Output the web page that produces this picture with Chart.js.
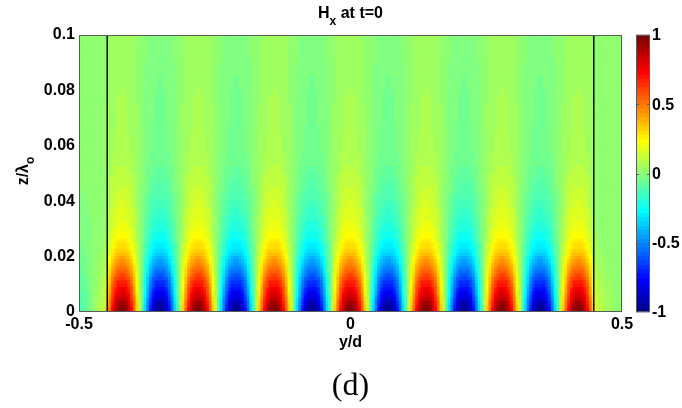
<!DOCTYPE html>
<html lang="en">
<head>
<meta charset="utf-8">
<title>Hx at t=0</title>
<script src="https://cdn.jsdelivr.net/npm/chart.js"></script>
<style>
    html, body { margin: 0; padding: 0; background: #fff; }
    .chart-container { width: 682px; height: 408px; position: relative; }
</style>
</head>
<body>
<div class="chart-container">
    <canvas id="myChart" width="682" height="408"></canvas>
</div>

<script>
    // grid of the field map: column centres in y/d (even spacing)
    const yStart = -0.4975, yStep = 0.005, yCount = 200;

    // row edges in z/lambda_o: finer near the bottom where the field changes fast
    const zEdges = [
        0, 0.00125, 0.0025, 0.00375, 0.005, 0.00625, 0.0075, 0.00875, 0.01, 0.01125,
        0.0125, 0.01375, 0.015, 0.01625, 0.0175, 0.01875, 0.02, 0.02125, 0.0225, 0.02375,
        0.025, 0.02625, 0.0275, 0.02875, 0.03,
        0.0325, 0.035, 0.0375, 0.04, 0.0425, 0.045, 0.0475, 0.05, 0.0525, 0.055,
        0.0575, 0.06, 0.0625, 0.065, 0.0675, 0.07, 0.0725, 0.075, 0.0775, 0.08,
        0.0825, 0.085, 0.0875, 0.09, 0.0925, 0.095, 0.0975, 0.1
    ];

    // Hx along the bottom edge (z = 0), one value per column
    const hxAtBottom = [
        -0.12, -0.10, -0.08, -0.05, -0.02, 0.01, 0.04, 0.07, 0.10, 0.13,
        0.33, 0.55, 0.75, 0.88, 0.97, 1.0,
        1.0, 0.97, 0.88, 0.75, 0.55, 0.33, 0.11, -0.11, -0.33, -0.55, -0.75, -0.88, -0.97, -1.0,
        -1.0, -0.97, -0.88, -0.75, -0.55, -0.33, -0.11, 0.11, 0.33, 0.55, 0.75, 0.88, 0.97, 1.0,
        1.0, 0.97, 0.88, 0.75, 0.55, 0.33, 0.11, -0.11, -0.33, -0.55, -0.75, -0.88, -0.97, -1.0,
        -1.0, -0.97, -0.88, -0.75, -0.55, -0.33, -0.11, 0.11, 0.33, 0.55, 0.75, 0.88, 0.97, 1.0,
        1.0, 0.97, 0.88, 0.75, 0.55, 0.33, 0.11, -0.11, -0.33, -0.55, -0.75, -0.88, -0.97, -1.0,
        -1.0, -0.97, -0.88, -0.75, -0.55, -0.33, -0.11, 0.11, 0.33, 0.55, 0.75, 0.88, 0.97, 1.0,
        1.0, 0.97, 0.88, 0.75, 0.55, 0.33, 0.11, -0.11, -0.33, -0.55, -0.75, -0.88, -0.97, -1.0,
        -1.0, -0.97, -0.88, -0.75, -0.55, -0.33, -0.11, 0.11, 0.33, 0.55, 0.75, 0.88, 0.97, 1.0,
        1.0, 0.97, 0.88, 0.75, 0.55, 0.33, 0.11, -0.11, -0.33, -0.55, -0.75, -0.88, -0.97, -1.0,
        -1.0, -0.97, -0.88, -0.75, -0.55, -0.33, -0.11, 0.11, 0.33, 0.55, 0.75, 0.88, 0.97, 1.0,
        1.0, 0.97, 0.88, 0.75, 0.55, 0.33, 0.11, -0.11, -0.33, -0.55, -0.75, -0.88, -0.97, -1.0,
        -1.0, -0.97, -0.88, -0.75, -0.55, -0.33, -0.11, 0.11, 0.33, 0.55, 0.75, 0.88, 0.97, 1.0,
        1.0, 0.97, 0.88, 0.75, 0.55, 0.33,
        0.14, 0.12, 0.10, 0.08, 0.06, 0.05, 0.04, 0.03, 0.02, 0.02
    ];

    // how strongly the bottom pattern survives in each row (row 0 = bottom)
    const decayWithZ = [
        0.99, 0.95, 0.91, 0.87, 0.83, 0.79, 0.75, 0.71, 0.68, 0.64,
        0.60, 0.56, 0.52, 0.48, 0.45, 0.41, 0.37, 0.34, 0.31, 0.29,
        0.26, 0.245, 0.23, 0.215,
        0.20, 0.18, 0.165, 0.15, 0.135, 0.12, 0.108, 0.096, 0.085, 0.075,
        0.066, 0.060, 0.057, 0.055, 0.053, 0.052, 0.051, 0.050, 0.049, 0.048,
        0.047, 0.047, 0.046, 0.046, 0.045, 0.045, 0.045, 0.045
    ];

    // small uniform level in each row (shows up as the faint stripes near the top)
    const fieldBias = [
        0, 0, 0, 0, 0, 0, 0, 0, 0, 0,
        0, 0, 0, 0, 0, 0, 0, 0, 0, 0,
        0, 0, 0, 0,
        0.002, 0.004, 0.006, 0.008, 0.010, 0.012, 0.013, 0.014, 0.015, 0.015,
        0.015, 0.015, 0.015, 0.015, 0.015, 0.015, 0.015, 0.015, 0.015, 0.015,
        0.015, 0.015, 0.015, 0.015, 0.015, 0.015, 0.015, 0.015
    ];

    const wallPositions = [-0.448, 0.448];
    const xTicks = [-0.5, 0, 0.5];
    const yTicks = [0, 0.02, 0.04, 0.06, 0.08, 0.1];
    const colorbarTicks = [-1, -0.5, 0, 0.5, 1];

    const FONT = "'Liberation Sans', Arial, sans-serif";

    // MATLAB jet(64)
    function jet(v) {
        const t = Math.min(1, Math.max(0, (v + 1) / 2));
        const i = Math.min(63, Math.floor(t * 64)) + 1;
        const c = (a, b) => Math.round(255 * Math.max(0, Math.min(1, a / 16, b / 16)));
        return "rgb(" + c(i - 24, 72 - i) + "," + c(i - 8, 56 - i) + "," + c(i + 8, 40 - i) + ")";
    }

    const yCells = [];
    for (let k = 0; k < yCount; k++) yCells.push(+(yStart + k * yStep).toFixed(4));

    const datasets = [];
    for (let j = 0; j < decayWithZ.length; j++) {
        const z0 = zEdges[j], z1 = zEdges[j + 1];
        datasets.push({
            type: "bar",
            stack: "cells",
            data: yCells.map(y => ({ x: y, y: [z0, z1] })),
            backgroundColor: hxAtBottom.map(h => jet(h * decayWithZ[j] + fieldBias[j])),
            borderWidth: 0,
            barThickness: "flex",
            categoryPercentage: 1,
            barPercentage: 1,
            inflateAmount: 0.5,
            clip: 0
        });
    }
    wallPositions.forEach(w => {
        datasets.push({
            type: "line",
            data: [{ x: w, y: 0 }, { x: w, y: 0.1 }],
            borderColor: "#000",
            borderWidth: 1.5,
            pointRadius: 0,
            order: -1,
            clip: 0
        });
    });

    const decorations = {
        id: "decorations",
        afterDatasetsDraw(chart) {
            const ctx = chart.ctx;
            const a = chart.chartArea;
            ctx.save();
            // axes box
            ctx.strokeStyle = "#5a5a5a";
            ctx.lineWidth = 1;
            ctx.strokeRect(a.left + 0.5, a.top + 0.5, a.right - a.left - 1, a.bottom - a.top - 1);

            // colour bar
            const cbL = 636, cbR = 650, cbT = a.top, cbB = a.bottom;
            const h = (cbB - cbT) / 64;
            for (let i = 0; i < 64; i++) {
                const v = -1 + (i + 0.5) * 2 / 64;
                ctx.fillStyle = jet(v);
                ctx.fillRect(cbL, cbB - (i + 1) * h - 0.3, cbR - cbL, h + 0.6);
            }
            ctx.strokeStyle = "#5a5a5a";
            ctx.strokeRect(cbL + 0.5, cbT + 0.5, cbR - cbL - 1, cbB - cbT - 1);
            ctx.fillStyle = "#000";
            ctx.font = "bold 16px " + FONT;
            ctx.textAlign = "left";
            ctx.textBaseline = "middle";
            colorbarTicks.forEach(v => {
                const y = cbB - (v + 1) / 2 * (cbB - cbT);
                if (v > -1 && v < 1) {
                    ctx.beginPath();
                    ctx.moveTo(cbR - 3, Math.round(y) + 0.5);
                    ctx.lineTo(cbR, Math.round(y) + 0.5);
                    ctx.moveTo(cbL, Math.round(y) + 0.5);
                    ctx.lineTo(cbL + 3, Math.round(y) + 0.5);
                    ctx.stroke();
                }
                ctx.fillText(String(v), cbR + 2, y + 1);
            });

            // title  H_x at t=0
            const cx = (a.left + a.right) / 2;
            ctx.textBaseline = "alphabetic";
            ctx.font = "bold 16px " + FONT;
            const wH = ctx.measureText("H").width;
            const wRest = ctx.measureText(" at t=0").width;
            ctx.font = "bold 12px " + FONT;
            const wSub = ctx.measureText("x").width;
            let x0 = cx - (wH + wSub + wRest) / 2;
            ctx.font = "bold 16px " + FONT;
            ctx.fillText("H", x0, 18);
            ctx.font = "bold 12px " + FONT;
            ctx.fillText("x", x0 + wH, 25);
            ctx.font = "bold 16px " + FONT;
            ctx.fillText(" at t=0", x0 + wH + wSub, 18);

            // x title
            ctx.textAlign = "center";
            ctx.fillText("y/d", cx, 347);

            // y title  z/lambda_o (rotated)
            ctx.save();
            ctx.translate(28, 171);
            ctx.rotate(-Math.PI / 2);
            ctx.textAlign = "left";
            const wz = ctx.measureText("z/\u03bb").width;
            ctx.font = "bold 12px " + FONT;
            const wo = ctx.measureText("o").width;
            ctx.font = "bold 16px " + FONT;
            ctx.fillText("z/\u03bb", -(wz + wo) / 2, 0);
            ctx.font = "bold 12px " + FONT;
            ctx.fillText("o", -(wz + wo) / 2 + wz, 6);
            ctx.restore();

            // panel label
            ctx.font = "32px 'Liberation Serif', 'Times New Roman', serif";
            ctx.textAlign = "center";
            ctx.fillText("(d)", cx, 395);
            ctx.restore();
        }
    };

    const tickFont = { family: FONT, size: 16, weight: "bold" };

    new Chart(document.getElementById("myChart").getContext("2d"), {
        type: "bar",
        data: { datasets: datasets },
        options: {
            responsive: false,
            animation: false,
            events: [],
            layout: { padding: { left: 0, top: 35, right: 60, bottom: 56 } },
            plugins: { legend: { display: false }, tooltip: { enabled: false } },
            scales: {
                x: {
                    type: "linear",
                    min: -0.5,
                    max: 0.5,
                    offset: false,
                    stacked: true,
                    afterBuildTicks: s => { s.ticks = xTicks.map(v => ({ value: v })); },
                    afterFit: s => { s.height = 40; },
                    grid: { display: false, drawTicks: false },
                    border: { display: false },
                    ticks: { font: tickFont, color: "#000", padding: 3, maxRotation: 0, callback: v => String(v) }
                },
                y: {
                    type: "linear",
                    min: 0,
                    max: 0.1,
                    stacked: false,
                    afterBuildTicks: s => { s.ticks = yTicks.map(v => ({ value: v })); },
                    afterFit: s => { s.width = 79; },
                    grid: { display: false, drawTicks: false },
                    border: { display: false },
                    ticks: { font: tickFont, color: "#000", padding: 4, callback: v => String(+v.toFixed(2)) }
                }
            }
        },
        plugins: [decorations]
    });
</script>
</body>
</html>
